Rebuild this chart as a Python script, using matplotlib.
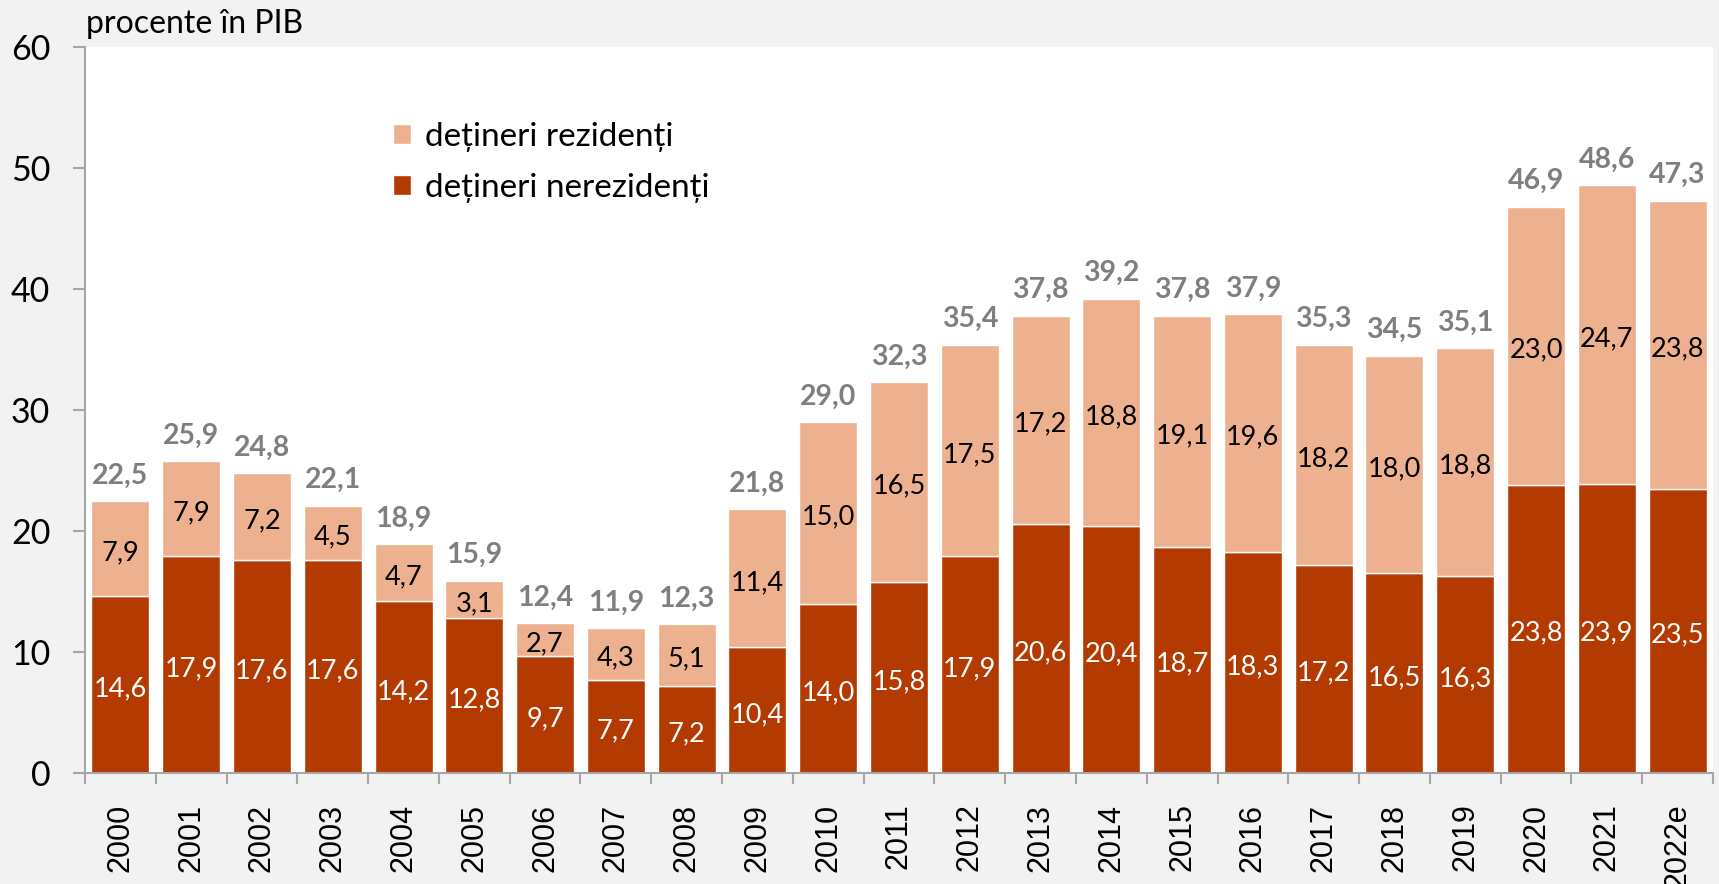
import matplotlib
matplotlib.use("Agg")
import matplotlib.pyplot as plt
from matplotlib.ticker import FixedLocator
import numpy as np

years = ["2000", "2001", "2002", "2003", "2004", "2005", "2006", "2007", "2008",
         "2009", "2010", "2011", "2012", "2013", "2014", "2015", "2016", "2017",
         "2018", "2019", "2020", "2021", "2022e"]
nonresident = [14.6, 17.9, 17.6, 17.6, 14.2, 12.8, 9.7, 7.7, 7.2, 10.4, 14.0, 15.8,
               17.9, 20.6, 20.4, 18.7, 18.3, 17.2, 16.5, 16.3, 23.8, 23.9, 23.5]
resident = [7.9, 7.9, 7.2, 4.5, 4.7, 3.1, 2.7, 4.3, 5.1, 11.4, 15.0, 16.5,
            17.5, 17.2, 18.8, 19.1, 19.6, 18.2, 18.0, 18.8, 23.0, 24.7, 23.8]
totals = [22.5, 25.9, 24.8, 22.1, 18.9, 15.9, 12.4, 11.9, 12.3, 21.8, 29.0, 32.3,
          35.4, 37.8, 39.2, 37.8, 37.9, 35.3, 34.5, 35.1, 46.9, 48.6, 47.3]

C_DARK = "#B33A00"
C_LIGHT = "#EDB190"
FONT = ["Lato", "DejaVu Sans"]

def fmt(v):
    return f"{v:.1f}".replace(".", ",")

fig = plt.figure(figsize=(17.19, 8.84), dpi=100, facecolor="#F2F2F2")
ax = fig.add_axes([85 / 1719, 1 - 773 / 884, (1713 - 85) / 1719, (773 - 47) / 884])
ax.set_facecolor("white")

x = np.arange(len(years))
b1 = ax.bar(x, nonresident, width=0.82, color=C_DARK, edgecolor="white", linewidth=1.0,
            label="dețineri nerezidenți", zorder=2)
b2 = ax.bar(x, resident, width=0.82, bottom=nonresident, color=C_LIGHT, edgecolor="white",
            linewidth=1.0, label="dețineri rezidenți", zorder=2)

for xi, n, r, t in zip(x, nonresident, resident, totals):
    ax.text(xi, n / 2 - 0.35, fmt(n), ha="center", va="center", color="white",
            fontsize=19.5, family=FONT, zorder=3)
    ax.text(xi, n + r / 2 - 0.35, fmt(r), ha="center", va="center", color="black",
            fontsize=19.5, family=FONT, zorder=3)
    ax.annotate(fmt(t), (xi, n + r), xytext=(0, 12.5), textcoords="offset points",
                ha="center", va="baseline", color="#7F7F7F", fontsize=20.5,
                fontweight="bold", family=FONT, zorder=3)

ax.set_xlim(-0.5, len(years) - 0.5)
ax.set_ylim(0, 60)
ax.set_yticks(np.arange(0, 61, 10))
ax.set_yticklabels([str(v) for v in range(0, 61, 10)], fontsize=24.5, family=FONT)
ax.set_xticks(x)
ax.set_xticklabels(years, rotation=90, fontsize=22, family=["Liberation Sans", "DejaVu Sans"])
ax.xaxis.set_minor_locator(FixedLocator(np.arange(-0.5, len(years), 1.0)))
ax.tick_params(axis="x", which="major", length=0, pad=22)
ax.tick_params(axis="x", which="minor", length=8, width=1.5, color="#A6A6A6")
ax.tick_params(axis="y", length=9, width=1.5, color="#A6A6A6", pad=16)

for s in ["top", "right"]:
    ax.spines[s].set_visible(False)
for s in ["left", "bottom"]:
    ax.spines[s].set_color("#A6A6A6")
    ax.spines[s].set_linewidth(1.5)

fig.text(86 / 1719, 1 - 33 / 884, "procente în PIB", ha="left", va="baseline",
         fontsize=23, family=FONT)

leg = ax.legend(handles=[b2, b1], loc="upper left",
                bbox_to_anchor=(393 / 1719, 1 - 122 / 884), bbox_transform=fig.transFigure,
                frameon=False, prop={"family": FONT, "size": 24},
                handlelength=0.55, handleheight=0.55, handletextpad=0.42,
                labelspacing=0.62, borderaxespad=0, borderpad=0)

fig.savefig("out.png", dpi=100, facecolor=fig.get_facecolor())
